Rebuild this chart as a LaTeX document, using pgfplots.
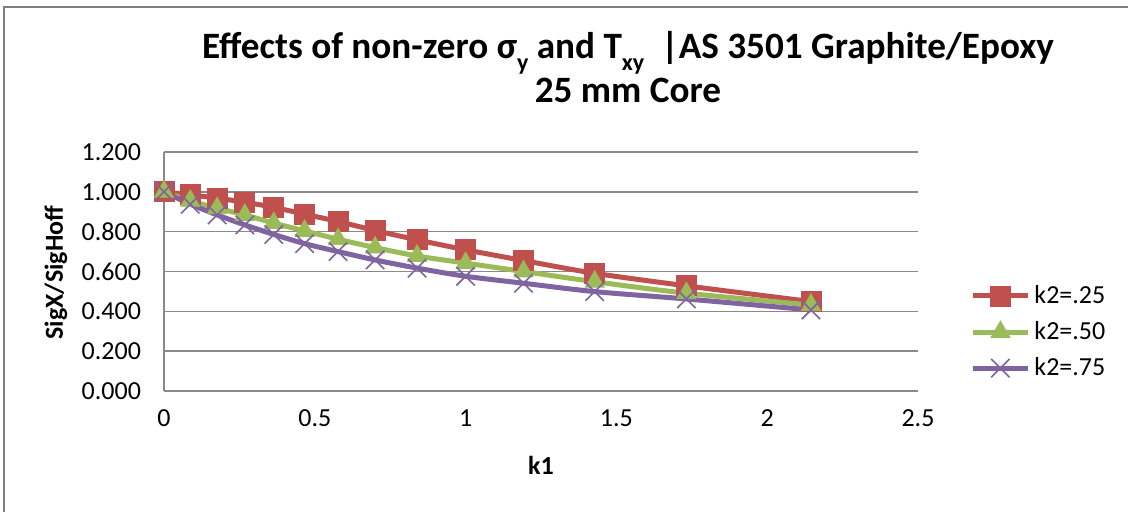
\documentclass[border=0pt]{standalone}
\usepackage{pgfplots}
\pgfplotsset{compat=1.18}
\usepackage{fontspec}
\setmainfont{Carlito}
\definecolor{cRed}{RGB}{192,80,77}
\definecolor{cGreen}{RGB}{155,187,89}
\definecolor{cPurple}{RGB}{128,100,162}
\definecolor{gridc}{RGB}{138,138,138}
\definecolor{framec}{RGB}{128,128,128}
\newcommand{\sub}[1]{\raisebox{-0.32em}{\fontsize{12}{12}\selectfont #1}}
\begin{document}
\begin{tikzpicture}
\useasboundingbox (-82pt,-60.5pt) rectangle (482pt,195.5pt);
\fill[white] (-82pt,-60.5pt) rectangle (482pt,195.5pt);
\draw[framec, line width=1pt] (-80pt,-62pt) -- (-80pt,192pt) -- (484pt,192pt);
\begin{axis}[
  scale only axis,
  width=377pt, height=119.5pt,
  xmin=0, xmax=2.5, ymin=0, ymax=1.2,
  xtick={0,0.5,1,1.5,2,2.5},
  ytick={0,0.2,0.4,0.6,0.8,1.0,1.2},
  /pgf/number format/assume math mode=true,
  yticklabel style={/pgf/number format/fixed, /pgf/number format/fixed zerofill, /pgf/number format/precision=3, xshift=-8pt},
  xticklabel style={yshift=-6pt},
  every tick label/.append style={font=\fontsize{13}{15}\selectfont},
  major tick length=0pt,
  axis lines*=left,
  axis line style={gridc, line width=0.8pt, -},
  ymajorgrids,
  grid style={gridc, line width=0.75pt},
  xlabel={\bfseries k1},
  ylabel={\bfseries SigX/SigHoff},
  label style={font=\fontsize{13}{15}\selectfont\bfseries},
  xlabel style={at={(axis description cs:0.5,0)}, anchor=center, yshift=-37pt},
  ylabel style={at={(axis description cs:0,0.495)}, anchor=center, xshift=0pt, yshift=54pt},
  clip=false,
  legend style={at={(1.069,0.46)}, anchor=north west, draw=none, fill=none,
    font=\fontsize{13}{15}\selectfont, row sep=3.5pt, inner sep=0pt},
  legend cell align=left,
  legend image code/.code={%
    \draw[mark repeat=2, mark phase=2] plot coordinates {(0pt,0pt) (13.75pt,0pt) (27.5pt,0pt)};},
]
\addplot[cRed, line width=2.5pt, smooth, tension=0.5, mark=square*, mark size=5pt, mark options={solid, fill=cRed, line width=0.4pt}]
coordinates {(0,1.000) (0.087,0.985) (0.176,0.968) (0.268,0.948) (0.364,0.922) (0.466,0.888) (0.577,0.851) (0.700,0.806) (0.839,0.759) (1.000,0.709) (1.192,0.655) (1.428,0.591) (1.732,0.528) (2.145,0.449)};
\addlegendentry{k2=.25}
\addplot[cGreen, line width=2.5pt, smooth, tension=0.5, mark=triangle*, mark size=5.5pt, mark options={solid, fill=cGreen, line width=0.4pt}]
coordinates {(0,1.000) (0.087,0.955) (0.176,0.918) (0.268,0.884) (0.364,0.843) (0.466,0.804) (0.577,0.762) (0.700,0.720) (0.839,0.678) (1.000,0.642) (1.192,0.600) (1.428,0.549) (1.732,0.491) (2.145,0.432)};
\addlegendentry{k2=.50}
\addplot[cPurple, line width=2.5pt, smooth, tension=0.5, mark=x, mark size=6.5pt, mark options={solid, line width=0.8pt}]
coordinates {(0,1.000) (0.087,0.938) (0.176,0.884) (0.268,0.834) (0.364,0.786) (0.466,0.740) (0.577,0.700) (0.700,0.658) (0.839,0.617) (1.000,0.576) (1.192,0.541) (1.428,0.499) (1.732,0.462) (2.145,0.407)};
\addlegendentry{k2=.75}
\end{axis}
\node[align=center, font=\fontsize{18.6}{22}\selectfont\bfseries, inner sep=0pt] at (232pt,162pt)
 {Effects of non-zero σ\sub{y} and Τ\sub{xy}\ \ |AS 3501 Graphite/Epoxy\\25 mm Core};
\end{tikzpicture}
\end{document}
